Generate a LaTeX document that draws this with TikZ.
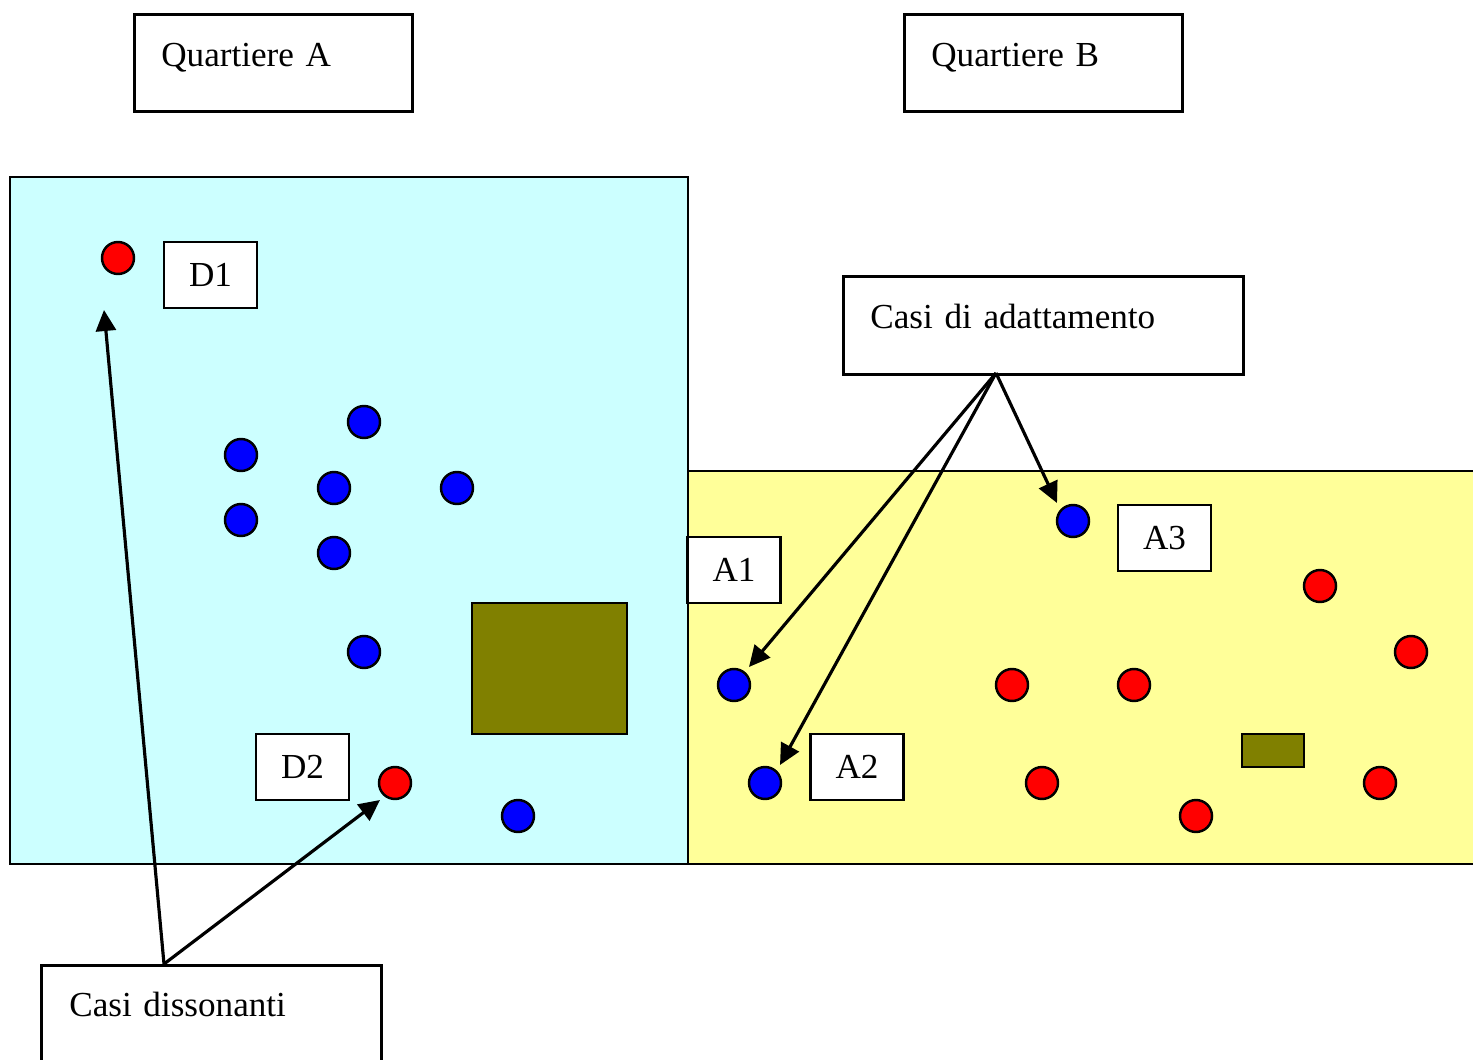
\documentclass[tikz,border=0pt]{standalone}
\usepackage{fontspec}
\setmainfont{Liberation Serif}
\usetikzlibrary{arrows.meta}
\definecolor{zonecyan}{HTML}{CCFFFF}
\definecolor{zoneyellow}{HTML}{FFFF99}
\definecolor{olivebox}{HTML}{808000}
\begin{document}
\begin{tikzpicture}[x=0.02cm,y=-0.02cm,
  txt/.style={font=\fontsize{20}{24}\selectfont},
  box/.style={draw, line width=1.5pt, fill=white, inner sep=0pt, txt},
  headbox/.style={box, anchor=north west, align=left, inner ysep=0pt},
  lbl/.style={box, minimum width=1.86cm, minimum height=1.32cm},
  dot/.style={circle, draw, line width=1.4pt, minimum size=0.64cm, inner sep=0pt},
  reddot/.style={dot, fill=red},
  bluedot/.style={dot, fill=blue},
  zone/.style={draw, line width=1.5pt},
  block/.style={draw, line width=1.5pt, fill=olivebox},
  arr/.style={line width=1.8pt, -{Triangle[length=0.42cm,width=0.4cm]}}
]
\useasboundingbox (0,0) rectangle (1473,1060);
\clip (0,0) rectangle (1473,1060);
\fill[white] (0,0) rectangle (1473,1060);

% zones
\draw[zone, fill=zoneyellow] (688,471) rectangle (1490,864);
\draw[zone, fill=zonecyan] (10,177) rectangle (688,864);

% blocks
\draw[block] (472,603) rectangle (627,734);
\draw[block] (1242,734) rectangle (1304,767);

% headings
\node[headbox, inner xsep=0.54cm, text width=4.48cm, text height=1.04cm, text depth=0.9cm] (qa) at (133,13) {Quartiere A};
\node[headbox, inner xsep=0.54cm, text width=4.48cm, text height=1.04cm, text depth=0.9cm] (qb) at (903,13) {Quartiere B};
\node[headbox, inner xsep=0.54cm, text width=6.92cm, text height=1.04cm, text depth=0.92cm] (ca) at (842,275) {Casi di adattamento};
\node[headbox, inner xsep=0.56cm, text width=5.68cm, text height=1.02cm, text depth=1.4cm] (cd) at (40,964) {Casi dissonanti};

% labels
\node[lbl] (d1) at (210.5,275) {D1};
\node[lbl] (d2) at (302.5,767) {D2};
\node[lbl] (a1) at (734,570) {A1};
\node[lbl] (a2) at (857,767) {A2};
\node[lbl] (a3) at (1164.5,538) {A3};

% blue dots, quartiere A
\node[bluedot] (b1) at (241,455) {};
\node[bluedot] (b2) at (364,422) {};
\node[bluedot] (b3) at (334,488) {};
\node[bluedot] (b4) at (457,488) {};
\node[bluedot] (b5) at (241,520) {};
\node[bluedot] (b6) at (334,553) {};
\node[bluedot] (b7) at (364,652) {};
\node[bluedot] (b8) at (518,816) {};
% red dots, quartiere A
\node[reddot] (rd1) at (118,258) {};
\node[reddot] (rd2) at (395,783) {};

% blue dots, quartiere B
\node[bluedot] (ba1) at (734,685) {};
\node[bluedot] (ba2) at (765,783) {};
\node[bluedot] (ba3) at (1073,521) {};
% red dots, quartiere B
\node[reddot] (r1) at (1320,586) {};
\node[reddot] (r2) at (1411,652) {};
\node[reddot] (r3) at (1012,685) {};
\node[reddot] (r4) at (1134,685) {};
\node[reddot] (r5) at (1042,783) {};
\node[reddot] (r6) at (1196,816) {};
\node[reddot] (r7) at (1380,783) {};

% arrow ends
\coordinate (cdfrom) at (164,964);
\coordinate (cafrom) at (996,373);
\coordinate (tipd1) at (104,310);
\coordinate (tipd2) at (380,800);
\coordinate (tipa1) at (749,667);
\coordinate (tipa2) at (780,765);
\coordinate (tipa3) at (1057,503);

\draw[arr] (cdfrom) -- (tipd1);
\draw[arr] (cdfrom) -- (tipd2);
\draw[arr] (cafrom) -- (tipa1);
\draw[arr] (cafrom) -- (tipa2);
\draw[arr] (cafrom) -- (tipa3);
\end{tikzpicture}
\end{document}
